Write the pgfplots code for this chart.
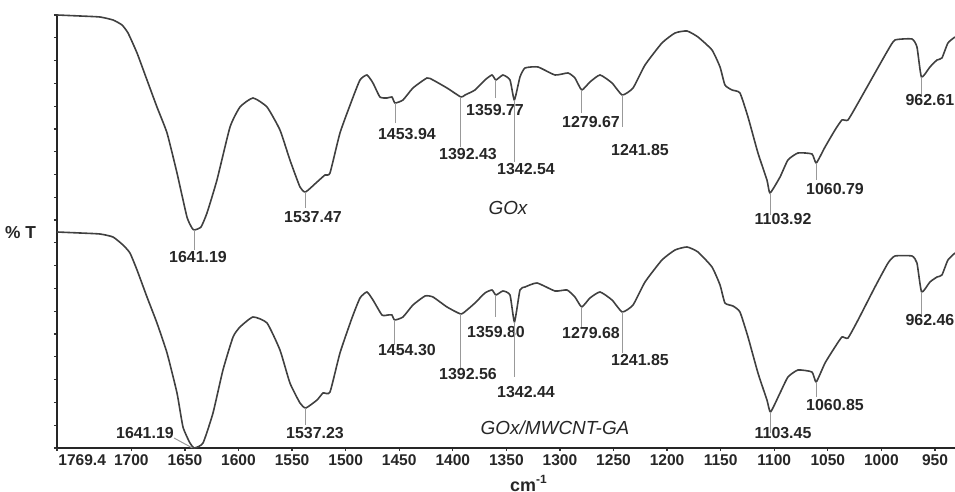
\documentclass[border=0pt]{standalone}
\usepackage{fontspec}
\setmainfont{Liberation Sans}
\usepackage{pgfplots}
\pgfplotsset{compat=1.18}
\begin{document}
\begin{tikzpicture}
\begin{axis}[
  name=ax, at={(0,0)}, anchor=south west,
  scale only axis, width=449bp, height=216.5bp,
  x dir=reverse, xmin=931.3, xmax=1769.4, ymin=0, ymax=433,
  axis x line*=bottom, axis y line*=left,
  axis line style={line width=1bp, black!85, -},
  xtick={950,1000,...,1700},
  xticklabels={950,1000,1050,1100,1150,1200,1250,1300,1350,1400,1450,1500,1550,1600,1650,1700},
  extra x ticks={1769.4}, extra x tick labels={1769.4},
  extra x tick style={xticklabel style={anchor=north west, xshift=-1bp}},
  ytick={0,22.79,...,433}, yticklabels={},
  tick align=outside, major tick length=1.5bp,
  tick style={black!80, line width=0.6bp},
  xticklabel style={font=\fontsize{7.8}{9}\selectfont\bfseries, text=black!85, inner sep=1.5bp},
  clip=false,
]
\addplot[line width=0.8bp, color=black!75, smooth, tension=0.3] coordinates {
(1769.4,433) (1747.9,432) (1729.3,431) (1717.1,428) (1708.7,423) (1703.1,415)
(1694.7,395) (1685.4,368) (1676.1,341) (1666.7,315) (1657.4,275) (1648.1,231)
(1643.4,220) (1641.19,218) (1635.0,221) (1629.4,235) (1620.1,268) (1607.9,321)
(1598.6,341) (1586.5,350) (1573.4,341) (1561.3,318) (1552.0,288) (1542.6,261)
(1537.47,256) (1526.7,266) (1519.3,273) (1514.6,275) (1505.3,315) (1494.1,348)
(1486.6,368) (1480.1,373) (1474.5,365) (1468.0,351) (1461.4,350) (1456.8,351)
(1453.94,345) (1446.5,348) (1437.2,360) (1424.1,370) (1418.5,368) (1405.4,360)
(1392.43,351) (1388.6,353) (1379.3,358) (1370.0,368) (1363.4,373) (1359.77,368)
(1353.2,373) (1346.6,368) (1342.54,348) (1337.3,371) (1332.6,380) (1320.5,381)
(1304.6,373) (1292.5,375) (1286.0,370) (1279.67,358) (1272.0,366) (1262.6,373)
(1251.4,365) (1241.85,353) (1231.8,360) (1220.6,383) (1204.8,405) (1192.6,415)
(1181.4,417) (1171.2,411) (1158.1,398) (1150.6,381) (1146.0,363) (1139.4,358)
(1132.0,355) (1124.5,331) (1115.2,295) (1106.8,268) (1103.92,255) (1094.6,271)
(1087.2,288) (1077.8,295) (1064.8,294) (1060.79,285) (1052.6,301) (1043.3,318)
(1036.8,328) (1031.2,328) (1021.8,345) (1006.0,375) (993.8,398) (987.3,408)
(971.5,409) (966.8,401) (962.61,371) (954.7,381) (948.1,388) (943.5,390)
(937.9,405) (931.3,411)
};
\addplot[line width=0.8bp, color=black!75, smooth, tension=0.3] coordinates {
(1769.4,216) (1747.9,215) (1729.3,214) (1717.1,211) (1707.8,203) (1701.3,195)
(1694.7,178) (1685.4,151) (1676.1,125) (1666.7,95) (1657.4,55) (1651.8,21)
(1645.3,5) (1641.19,0) (1633.1,5) (1623.8,35) (1614.5,78) (1605.1,111)
(1598.6,121) (1586.5,131) (1573.4,125) (1561.3,98) (1552.0,65) (1542.6,45)
(1537.23,40) (1526.7,48) (1521.1,55) (1514.6,56) (1505.3,95) (1494.1,130)
(1486.6,150) (1480.1,156) (1474.5,148) (1466.1,133) (1460.5,133) (1456.8,133)
(1454.30,128) (1446.5,131) (1437.2,143) (1425.9,152) (1418.5,151) (1405.4,141)
(1392.56,134) (1386.8,138) (1379.3,145) (1370.0,155) (1363.4,158) (1359.80,153)
(1353.2,157) (1346.6,153) (1342.44,126) (1337.3,158) (1332.6,161) (1321.4,165)
(1304.6,157) (1293.4,158) (1286.0,151) (1279.68,141) (1272.0,150) (1262.6,156)
(1251.4,148) (1241.85,136) (1231.8,143) (1220.6,166) (1204.8,188) (1192.6,198)
(1181.4,201) (1171.2,196) (1158.1,181) (1150.6,163) (1146.0,145) (1138.5,142)
(1132.0,136) (1124.5,111) (1115.2,75) (1106.8,48) (1103.45,36) (1094.6,55)
(1087.2,71) (1077.8,78) (1064.8,76) (1060.85,66) (1052.6,85) (1043.3,101)
(1036.8,111) (1031.2,110) (1021.8,128) (1006.0,161) (993.8,185) (987.3,192)
(971.5,192) (966.8,185) (962.46,156) (954.7,166) (948.1,171) (943.5,173)
(937.9,188) (931.3,195)
};
\tikzset{annot/.style={black!40, line width=0.5bp},
  lab/.style={font=\fontsize{8}{9.6}\selectfont\bfseries, text=black!85, inner sep=0pt}}
% GOx annotations
\draw[annot] (axis cs:1641.19,218) -- (axis cs:1641.19,198);
\node[lab] at (axis cs:1637.8,191) {1641.19};
\draw[annot] (axis cs:1537.47,256) -- (axis cs:1537.47,240);
\node[lab] at (axis cs:1530.5,231) {1537.47};
\draw[annot] (axis cs:1453.94,345) -- (axis cs:1453.94,325);
\node[lab] at (axis cs:1442.8,314) {1453.94};
\draw[annot] (axis cs:1392.43,351) -- (axis cs:1392.43,301);
\node[lab] at (axis cs:1385.8,294) {1392.43};
\draw[annot] (axis cs:1359.77,368) -- (axis cs:1359.77,350);
\node[lab] at (axis cs:1360.6,338) {1359.77};
\draw[annot] (axis cs:1342.54,348) -- (axis cs:1342.54,286);
\node[lab] at (axis cs:1331.7,279) {1342.54};
\draw[annot] (axis cs:1279.67,358) -- (axis cs:1279.67,335);
\node[lab] at (axis cs:1271.0,326) {1279.67};
\draw[annot] (axis cs:1241.85,353) -- (axis cs:1241.85,321);
\node[lab] at (axis cs:1225.3,298) {1241.85};
\draw[annot] (axis cs:1103.92,255) -- (axis cs:1103.92,233);
\node[lab] at (axis cs:1091.8,229) {1103.92};
\draw[annot] (axis cs:1060.79,285) -- (axis cs:1060.79,268);
\node[lab] at (axis cs:1043.3,259) {1060.79};
\draw[annot] (axis cs:962.61,371) -- (axis cs:962.61,353);
\node[lab] at (axis cs:954.7,348) {962.61};
\node[font=\fontsize{9.5}{11}\selectfont\itshape, text=black!85] at (axis cs:1348.5,240) {GOx};
% GOx/MWCNT-GA annotations
\draw[annot] (axis cs:1660.2,10) -- (axis cs:1643,0);
\node[lab] at (axis cs:1687.3,15) {1641.19};
\draw[annot] (axis cs:1537.23,40) -- (axis cs:1537.23,23);
\node[lab] at (axis cs:1528.6,15) {1537.23};
\draw[annot] (axis cs:1454.30,128) -- (axis cs:1454.30,103);
\node[lab] at (axis cs:1442.8,98) {1454.30};
\draw[annot] (axis cs:1392.56,134) -- (axis cs:1392.56,78);
\node[lab] at (axis cs:1385.8,74) {1392.56};
\draw[annot] (axis cs:1359.80,153) -- (axis cs:1359.80,131);
\node[lab] at (axis cs:1359.7,116) {1359.80};
\draw[annot] (axis cs:1342.44,126) -- (axis cs:1342.44,71);
\node[lab] at (axis cs:1331.7,56) {1342.44};
\draw[annot] (axis cs:1279.68,141) -- (axis cs:1279.68,121);
\node[lab] at (axis cs:1271.0,115) {1279.68};
\draw[annot] (axis cs:1241.85,136) -- (axis cs:1241.85,95);
\node[lab] at (axis cs:1225.3,88) {1241.85};
\draw[annot] (axis cs:1103.45,36) -- (axis cs:1103.45,15);
\node[lab] at (axis cs:1091.8,15) {1103.45};
\draw[annot] (axis cs:1060.85,66) -- (axis cs:1060.85,51);
\node[lab] at (axis cs:1043.3,43) {1060.85};
\draw[annot] (axis cs:962.46,156) -- (axis cs:962.46,131);
\node[lab] at (axis cs:954.7,128) {962.46};
\node[font=\fontsize{9.5}{11}\selectfont\itshape, text=black!85] at (axis cs:1304.6,20) {GOx/MWCNT-GA};
% axis labels
\node[font=\fontsize{8.7}{10}\selectfont\bfseries, text=black!85, anchor=east] at ([xshift=-7bp]rel axis cs:0,0.497) {\% T};
\node[font=\fontsize{9}{10}\selectfont\bfseries, text=black!85, anchor=base] at ([yshift=-21.5bp]rel axis cs:0.5256,0) {cm\textsuperscript{-1}};
\end{axis}
\pgfresetboundingbox
\path (-28.5bp,-22bp) rectangle (449bp,224bp);
\end{tikzpicture}
\end{document}
